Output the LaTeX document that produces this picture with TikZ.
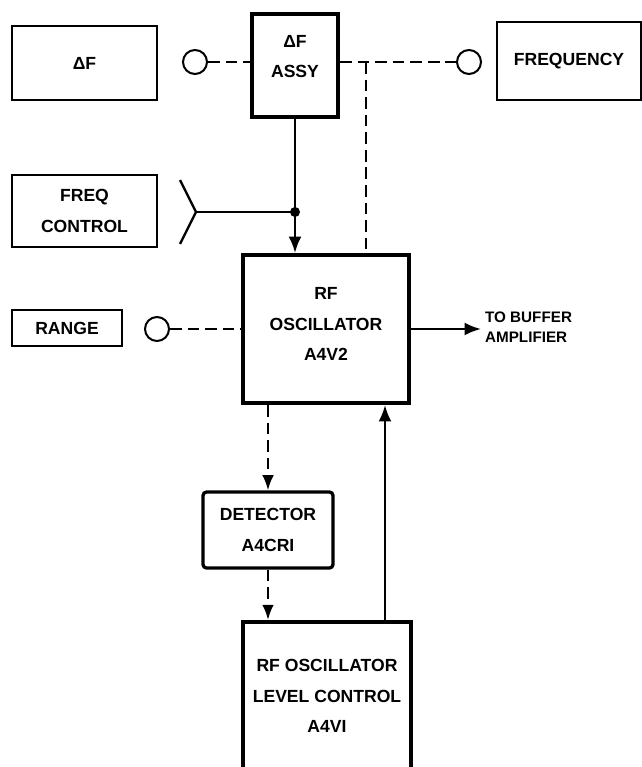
\documentclass[tikz,border=0pt]{standalone}
\usepackage{fontspec}
\setmainfont{Liberation Sans}
\usetikzlibrary{arrows.meta}
\begin{document}
\begin{tikzpicture}[x=0.03cm,y=-0.03cm, font=\fontsize{15}{26}\selectfont\bfseries,
  blk/.style={draw,line width=1.7pt,align=center,inner sep=0pt},
  heavy/.style={draw,line width=3.4pt,align=center,inner sep=0pt},
  jack/.style={draw,circle,line width=1.7pt,minimum size=24*0.03cm,inner sep=0pt},
  wire/.style={line width=2pt},
  dsh/.style={wire,dash pattern=on 10pt off 5pt},
  arr/.style={wire,-{Latex[length=14pt,width=11pt]}}]
\useasboundingbox (0,0) rectangle (641,767);
% blocks
\node[blk,minimum width=145*0.03cm,minimum height=74*0.03cm] (df) at (84.5,63) {ΔF};
\node[heavy,text depth=15pt,minimum width=86*0.03cm,minimum height=103*0.03cm] (dfassy) at (295,65.5) {ΔF\\ASSY};
\node[blk,minimum width=144*0.03cm,minimum height=78*0.03cm] (freq) at (569,61) {FREQUENCY};
\node[blk,minimum width=145*0.03cm,minimum height=72*0.03cm] (fc) at (84.5,211) {FREQ\\CONTROL};
\node[blk,minimum width=110*0.03cm,minimum height=36*0.03cm] (range) at (67,328) {RANGE};
\node[heavy,text depth=8.5pt,minimum width=166*0.03cm,minimum height=148*0.03cm] (osc) at (326,329) {RF\\OSCILLATOR\\A4V2};
\node[heavy,line width=2.8pt,rounded corners=3pt,minimum width=130*0.03cm,minimum height=76*0.03cm] (det) at (268,530) {DETECTOR\\A4CRI};
\node[heavy,minimum width=168*0.03cm,minimum height=148*0.03cm] (lvl) at (327,696) {RF OSCILLATOR\\LEVEL CONTROL\\A4VI};
\node[anchor=west,align=left,font=\fontsize{13}{17}\selectfont\bfseries] (out) at (481,327) {TO BUFFER\\AMPLIFIER};
% jacks
\node[jack] (dfjack) at (195,62) {};
\node[jack] (freqjack) at (469,62) {};
\node[jack] (rangejack) at (157,329) {};
\coordinate (tap) at (366,62);
\coordinate (fork) at (196,212);
\coordinate (forka) at (180,180);
\coordinate (forkb) at (180,244);
\coordinate (junc) at (dfassy.south |- fork);
% connectors
\draw[dsh] (dfjack) -- (dfassy.west |- dfjack);
\draw[dsh] (dfassy.east |- tap) -- (freqjack);
\draw[dsh] (tap) -- (tap |- osc.north);
\draw[arr] (dfassy.south) -- (dfassy.south |- osc.north);
\draw[wire] (forka) -- (fork) -- (forkb);
\draw[wire] (fork) -- (junc);
\fill (junc) circle (5);
\draw[dsh] (rangejack) -- (osc.west);
\draw[arr] (osc.east) -- (osc.east -| out.west);
\draw[dsh,-{Latex[length=13pt,width=10pt]}] (det.north |- osc.south) -- (det.north);
\draw[dsh,-{Latex[length=13pt,width=10pt]}] (det.south) -- (det.south |- lvl.north);
\draw[arr] ([xshift=58*0.03cm]lvl.north) -- ([xshift=58*0.03cm]lvl.north |- osc.south);
\end{tikzpicture}
\end{document}
